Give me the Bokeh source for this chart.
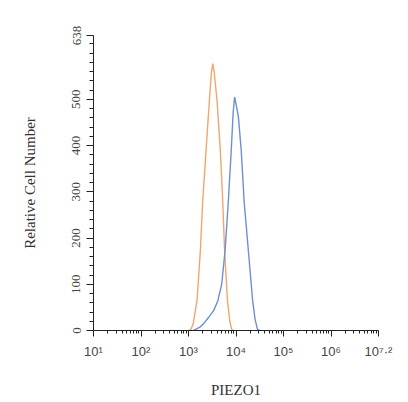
from bokeh.plotting import figure
from bokeh.models import Range1d, FixedTicker
from bokeh.embed import file_html
from bokeh.resources import INLINE

# Data (x as log10 of PIEZO1 intensity, y as relative cell number)
orange_log = [3.00, 3.05, 3.10, 3.18, 3.25, 3.30, 3.37, 3.44, 3.48, 3.51, 3.54, 3.60, 3.67, 3.72, 3.76, 3.82, 3.87, 3.91, 3.95]
orange_cnt = [0, 2, 15, 65, 173, 281, 390, 498, 555, 577, 560, 498, 390, 281, 173, 65, 20, 2, 0]

blue_log = [3.10, 3.14, 3.25, 3.32, 3.42, 3.53, 3.62, 3.70, 3.77, 3.84, 3.90, 3.94, 3.97, 4.00, 4.05, 4.11, 4.17, 4.26, 4.35, 4.40, 4.45, 4.50]
blue_cnt = [0, 2, 8, 15, 28, 43, 65, 101, 173, 281, 390, 470, 505, 490, 462, 390, 281, 173, 65, 25, 3, 0]

y_ticks = [0, 100, 200, 300, 400, 500, 638]
x_tick_exps = [1, 2, 3, 4, 5, 6, 7]
x_tick_labels = ["10¹", "10²", "10³", "10⁴", "10⁵", "10⁶", "10⁷·²"]

SERIF = "Liberation Serif"
SANS = "Liberation Sans"

p = figure(frame_width=285, frame_height=295, x_axis_type="log",
           x_range=Range1d(10, 1e7), y_range=Range1d(0, 638),
           output_backend="svg", toolbar_location=None,
           min_border_left=93, min_border_right=22, min_border_top=35, min_border_bottom=8)
p.outline_line_color = None
p.grid.visible = False
p.background_fill_color = "white"
p.border_fill_color = "white"

p.line([10 ** v for v in orange_log], orange_cnt, line_color="#F2A66C", line_width=1.4)
p.line([10 ** v for v in blue_log], blue_cnt, line_color="#6C8FD6", line_width=1.4)

# x axis
xt = [10.0 ** e for e in x_tick_exps]
xminor = []
for e in x_tick_exps[:-1]:
    for m in range(2, 10):
        xminor.append(m * 10.0 ** e)
p.xaxis.ticker = FixedTicker(ticks=xt, minor_ticks=xminor)
p.xaxis.major_label_overrides = {t: lab for t, lab in zip(xt, x_tick_labels)}
p.xaxis.major_tick_in = 0
p.xaxis.major_tick_out = 6
p.xaxis.minor_tick_in = 0
p.xaxis.minor_tick_out = 3
p.xaxis.axis_line_color = "#222222"
p.xaxis.major_tick_line_color = "#222222"
p.xaxis.minor_tick_line_color = "#222222"
p.xaxis.major_label_text_font = SANS
p.xaxis.major_label_text_font_size = "13px"
p.xaxis.major_label_text_color = "#444444"
p.xaxis.major_label_standoff = 7
p.xaxis.axis_label = "PIEZO1"
p.xaxis.axis_label_text_font = SERIF
p.xaxis.axis_label_text_font_style = "normal"
p.xaxis.axis_label_text_font_size = "15px"
p.xaxis.axis_label_text_color = "#333333"
p.xaxis.axis_label_standoff = 20

# y axis
yminor = [v for v in range(0, 640, 20) if v not in y_ticks]
p.yaxis.ticker = FixedTicker(ticks=y_ticks, minor_ticks=yminor)
p.yaxis.major_label_orientation = "vertical"
p.yaxis.major_tick_in = 0
p.yaxis.major_tick_out = 7
p.yaxis.minor_tick_in = 0
p.yaxis.minor_tick_out = 4
p.yaxis.axis_line_color = "#222222"
p.yaxis.major_tick_line_color = "#222222"
p.yaxis.minor_tick_line_color = "#222222"
p.yaxis.major_label_text_font = SERIF
p.yaxis.major_label_text_font_size = "13px"
p.yaxis.major_label_text_color = "#444444"
p.yaxis.major_label_standoff = 6
p.yaxis.axis_label = "Relative Cell Number"
p.yaxis.axis_label_text_font = SERIF
p.yaxis.axis_label_text_font_style = "normal"
p.yaxis.axis_label_text_font_size = "15px"
p.yaxis.axis_label_text_color = "#333333"
p.yaxis.axis_label_standoff = 32

open("out.html", "w").write(file_html(p, INLINE))
